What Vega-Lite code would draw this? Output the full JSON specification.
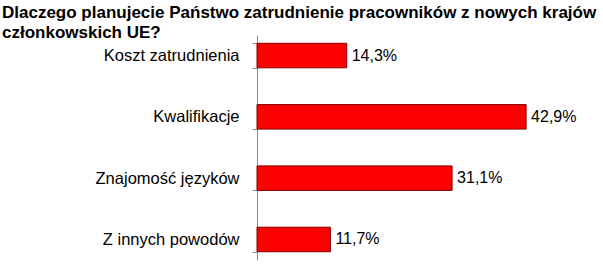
{
  "$schema": "https://vega.github.io/schema/vega-lite/v6.json",
  "width": 340,
  "height": 225,
  "autosize": {"type": "none"},
  "padding": {"left": 257, "top": 35, "right": 6, "bottom": 8},
  "background": "white",
  "config": {
    "view": {"stroke": null},
    "font": "Liberation Sans",
    "locale": {"number": {"decimal": ",", "thousands": " ", "grouping": [3], "currency": ["", " zł"]}}
  },
  "title": {
    "text": ["Dlaczego planujecie  Państwo  zatrudnienie  pracowników  z  nowych  krajów", "członkowskich  UE?"],
    "anchor": "start",
    "frame": "group",
    "dx": -255,
    "dy": 15,
    "fontSize": 17,
    "fontWeight": "bold",
    "font": "Liberation Sans",
    "color": "black",
    "lineHeight": 20,
    "offset": 0
  },
  "data": {
    "values": [
      {"powod": "Koszt zatrudnienia", "udzial": 0.143},
      {"powod": "Kwalifikacje", "udzial": 0.429},
      {"powod": "Znajomość języków", "udzial": 0.311},
      {"powod": "Z innych powodów", "udzial": 0.117}
    ]
  },
  "encoding": {
    "y": {
      "field": "powod",
      "type": "nominal",
      "sort": null,
      "scale": {"paddingInner": 0.6, "paddingOuter": 0.135},
      "axis": {
        "title": null,
        "domainColor": "#888888",
        "tickColor": "#888888",
        "tickSize": 5,
        "tickBand": "extent",
        "labelFontSize": 16.5,
        "labelColor": "black",
        "labelPadding": 13,
        "labelFont": "Liberation Sans"
      }
    },
    "x": {
      "field": "udzial",
      "type": "quantitative",
      "scale": {"domain": [0, 0.542], "nice": false},
      "axis": null
    }
  },
  "layer": [
    {"mark": {"type": "bar", "color": "#ff0000", "stroke": "#800000", "strokeWidth": 1}},
    {
      "mark": {"type": "text", "align": "left", "dx": 5, "fontSize": 16, "color": "black", "font": "Liberation Sans"},
      "encoding": {"text": {"field": "udzial", "format": ".1%"}}
    }
  ]
}
